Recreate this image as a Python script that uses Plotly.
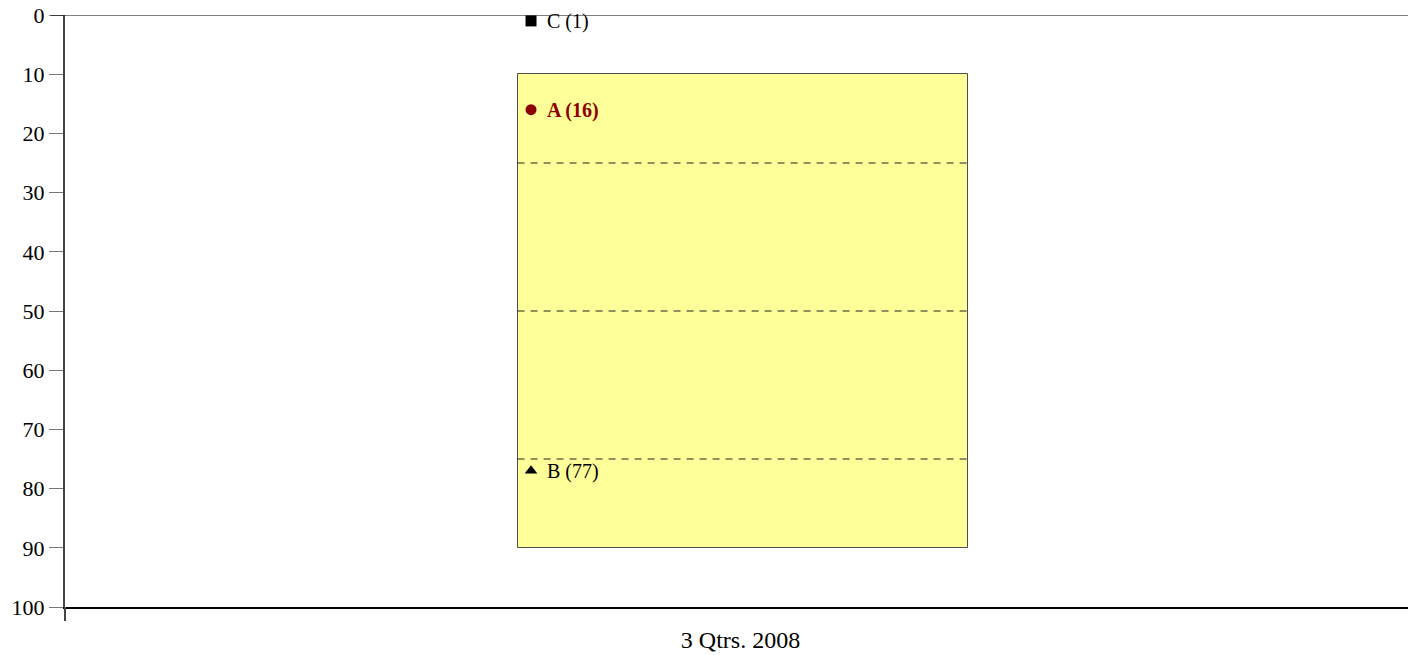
import plotly.graph_objects as go

# Data
period_labels = ["3 Qtrs. 2008"]
range_low = [10]
range_high = [90]
quartile_lines = [25, 50, 75]
point_names = ["C", "A", "B"]
point_values = [1, 16, 77]
y_ticks = [0, 10, 20, 30, 40, 50, 60, 70, 80, 90, 100]

# Styling
FONT = "Liberation Serif, Times New Roman, serif"
BOX_FILL = "#FFFF99"
BOX_EDGE = "#4d4d4d"
HIGHLIGHT = "#8B0000"
marker_symbols = {"C": "square", "A": "circle", "B": "triangle-up"}
marker_colors = {"C": "black", "A": HIGHLIGHT, "B": "black"}
BOX_HALF = 0.1675
POINT_X = -0.156

fig = go.Figure()

# Range box drawn as a floating bar
fig.add_trace(go.Bar(
    x=[0.0015], y=[range_high[0] - range_low[0]], base=range_low,
    width=2 * BOX_HALF,
    marker=dict(color=BOX_FILL, line=dict(color=BOX_EDGE, width=1)),
    hoverinfo="skip", showlegend=False,
))

# Dashed quartile lines across the box
for q in quartile_lines:
    fig.add_shape(type="line", xref="x", yref="y",
                  x0=-BOX_HALF + 0.0015, x1=BOX_HALF + 0.0015, y0=q, y1=q,
                  line=dict(color="#222222", width=1, dash="7px,6px"))

# Points with labels
for name, val in zip(point_names, point_values):
    fig.add_trace(go.Scatter(
        x=[POINT_X], y=[val], mode="markers",
        marker=dict(symbol=marker_symbols[name], color=marker_colors[name], size=11,
                    line=dict(width=0)),
        showlegend=False, hoverinfo="skip",
    ))
    bold = name == "A"
    txt = f"{name} ({val})"
    fig.add_annotation(
        x=POINT_X, y=val, xref="x", yref="y", text=f"<b>{txt}</b>" if bold else txt,
        showarrow=False, xanchor="left", yanchor="middle", xshift=14, yshift=-1,
        font=dict(family=FONT, size=20, color=marker_colors[name]),
    )

# Top border line at 0 (extends over the tick)
fig.add_shape(type="line", xref="paper", yref="y",
              x0=-14 / 1343, x1=1, y0=0, y1=0,
              line=dict(color="black", width=1))
# Small downward tick at the left end of the baseline
fig.add_shape(type="line", xref="paper", yref="paper",
              x0=0, x1=0, y0=-14 / 592, y1=0,
              line=dict(color="#444444", width=2))

fig.update_layout(
    width=1408, height=655,
    margin=dict(l=65, r=0, t=15, b=48),
    paper_bgcolor="white", plot_bgcolor="white",
    font=dict(family=FONT, color="black"),
    bargap=0,
    xaxis=dict(
        range=[-0.503, 0.497], tickvals=[0], ticktext=period_labels,
        showgrid=False, zeroline=False, ticks="",
        showline=True, linecolor="black", linewidth=2,
        tickfont=dict(family=FONT, size=24, color="black"),
        ticklabelstandoff=10,
    ),
    yaxis=dict(
        range=[100, 0], tickvals=y_ticks,
        showgrid=False, zeroline=False,
        ticks="outside", ticklen=14, tickcolor="#777777", tickwidth=1,
        showline=True, linecolor="#444444", linewidth=2,
        tickfont=dict(family=FONT, size=22, color="black"),
    ),
)

fig.write_html("out.html")
